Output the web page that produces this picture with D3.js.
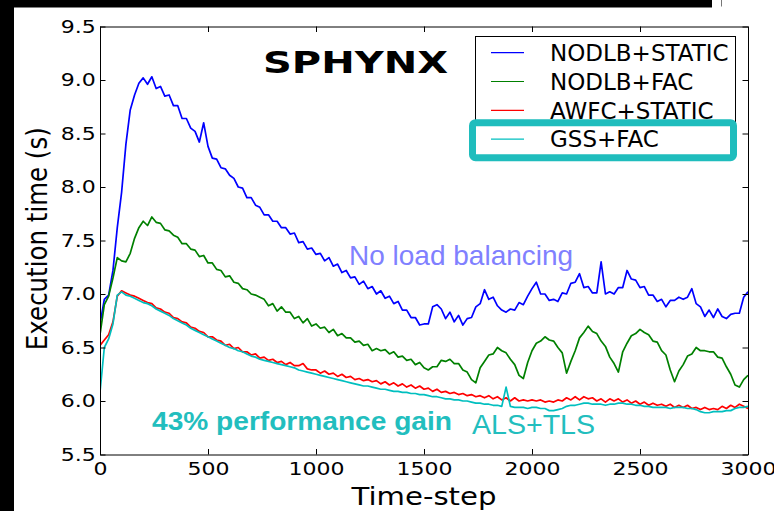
<!doctype html>
<html>
<head>
<meta charset="utf-8">
<style>
  body { margin: 0; background: #fff; }
  text { font-family: 'DejaVu Sans'; }
  .axis text { font-size: 18.5px; fill: #000; }
  .axis path, .axis line { stroke: #000; stroke-width: 1; }
</style>
<script src="https://cdn.jsdelivr.net/npm/d3@7/dist/d3.min.js"></script>
</head>
<body>
<script>
// time-steps, one sample every 20 steps
var steps = d3.range(0, 3001, 20);

var nodlbStatic = [
  6.72, 6.95, 6.99, 7.22, 7.62, 7.95, 8.40, 8.72, 8.86, 8.97,
  9.02, 8.96, 9.03, 8.92, 8.94, 8.85, 8.86, 8.76, 8.76, 8.64,
  8.64, 8.55, 8.52, 8.42, 8.60, 8.38, 8.27, 8.26, 8.18, 8.17,
  8.11, 8.08, 8.00, 7.99, 7.90, 7.90, 7.83, 7.81, 7.74, 7.74,
  7.68, 7.68, 7.62, 7.62, 7.56, 7.57, 7.48, 7.49, 7.42, 7.43,
  7.37, 7.38, 7.31, 7.34, 7.26, 7.28, 7.20, 7.22, 7.15, 7.16,
  7.09, 7.12, 7.05, 7.07, 7.00, 7.03, 6.96, 6.98, 6.91, 6.93,
  6.85, 6.85, 6.78, 6.78, 6.71, 6.72, 6.72, 6.88, 6.90, 6.86,
  6.77, 6.83, 6.74, 6.80, 6.71, 6.77, 6.78, 6.88, 6.91, 7.04,
  6.95, 6.97, 6.89, 6.85, 6.83, 6.86, 6.85, 6.92, 6.90, 6.98,
  7.05, 7.11, 7.00, 7.00, 6.94, 6.95, 6.93, 7.01, 7.00, 7.10,
  7.11, 7.19, 7.06, 7.07, 7.01, 7.01, 7.30, 7.00, 7.02, 7.00,
  7.06, 7.06, 7.22, 7.14, 7.13, 7.06, 7.07, 6.99, 6.99, 6.93,
  6.95, 6.88, 6.94, 6.94, 6.97, 6.95, 6.97, 7.05, 6.91, 6.88,
  6.79, 6.85, 6.78, 6.86, 6.79, 6.77, 6.81, 6.82, 6.82, 6.97,
  7.02
];

var nodlbFac = [
  6.62, 6.90, 6.98, 7.15, 7.34, 7.31, 7.30, 7.38, 7.52, 7.62,
  7.68, 7.64, 7.72, 7.67, 7.66, 7.60, 7.59, 7.55, 7.53, 7.47,
  7.47, 7.42, 7.41, 7.35, 7.36, 7.29, 7.29, 7.23, 7.22, 7.16,
  7.17, 7.11, 7.10, 7.05, 7.04, 7.00, 6.99, 6.97, 6.95, 6.89,
  6.91, 6.84, 6.88, 6.83, 6.83, 6.77, 6.79, 6.73, 6.77, 6.70,
  6.72, 6.68, 6.69, 6.64, 6.67, 6.61, 6.63, 6.59, 6.59, 6.55,
  6.56, 6.52, 6.53, 6.47, 6.49, 6.47, 6.48, 6.44, 6.46, 6.41,
  6.42, 6.38, 6.39, 6.34, 6.36, 6.31, 6.29, 6.32, 6.32, 6.38,
  6.37, 6.39, 6.35, 6.35, 6.29, 6.27, 6.20, 6.17, 6.31, 6.37,
  6.43, 6.44, 6.50, 6.47, 6.45, 6.39, 6.34, 6.24, 6.21, 6.36,
  6.47, 6.54, 6.56, 6.60, 6.57, 6.56, 6.50, 6.45, 6.26, 6.37,
  6.47, 6.59, 6.64, 6.70, 6.65, 6.63, 6.56, 6.51, 6.41, 6.35,
  6.27, 6.46, 6.54, 6.61, 6.63, 6.67, 6.64, 6.62, 6.56, 6.55,
  6.47, 6.43, 6.29, 6.18, 6.28, 6.34, 6.42, 6.44, 6.50, 6.47,
  6.47, 6.46, 6.46, 6.41, 6.40, 6.32, 6.25, 6.15, 6.13, 6.20,
  6.24
];

var awfcStatic = [
  6.52, 6.57, 6.62, 6.74, 6.98, 7.03, 7.01, 6.99, 6.98, 6.96,
  6.94, 6.92, 6.91, 6.87, 6.86, 6.83, 6.82, 6.78, 6.77, 6.74,
  6.73, 6.69, 6.68, 6.65, 6.64, 6.60, 6.60, 6.57, 6.56, 6.52,
  6.53, 6.49, 6.50, 6.46, 6.46, 6.43, 6.44, 6.40, 6.41, 6.38,
  6.39, 6.36, 6.37, 6.34, 6.36, 6.33, 6.33, 6.35, 6.30, 6.29,
  6.29, 6.26, 6.28, 6.25, 6.26, 6.23, 6.25, 6.22, 6.23, 6.20,
  6.21, 6.19, 6.20, 6.18, 6.19, 6.16, 6.18, 6.15, 6.17, 6.14,
  6.16, 6.13, 6.15, 6.12, 6.14, 6.11, 6.12, 6.09, 6.11, 6.08,
  6.09, 6.07, 6.08, 6.06, 6.07, 6.05, 6.06, 6.04, 6.05, 6.03,
  6.05, 6.02, 6.04, 6.01, 6.03, 6.00, 6.03, 6.00, 6.01, 6.00,
  6.01, 6.00, 6.01, 5.99, 6.00, 5.99, 6.01, 6.00, 6.03, 6.01,
  6.04, 6.01, 6.04, 6.02, 6.03, 6.00, 6.02, 5.99, 6.02, 6.00,
  6.02, 5.99, 6.01, 5.98, 6.00, 5.97, 5.99, 5.96, 5.98, 5.96,
  5.97, 5.95, 5.97, 5.94, 5.96, 5.94, 5.96, 5.93, 5.94, 5.92,
  5.94, 5.92, 5.93, 5.92, 5.95, 5.93, 5.96, 5.94, 5.97, 5.95,
  5.93
];

var gssFac = [
  6.08, 6.50, 6.58, 6.72, 6.99, 7.02, 6.99, 6.98, 6.96, 6.94,
  6.92, 6.91, 6.89, 6.86, 6.84, 6.82, 6.80, 6.77, 6.75, 6.73,
  6.71, 6.68, 6.66, 6.64, 6.62, 6.60, 6.58, 6.56, 6.54, 6.52,
  6.50, 6.49, 6.47, 6.46, 6.44, 6.42, 6.41, 6.39, 6.38, 6.37,
  6.36, 6.35, 6.34, 6.33, 6.32, 6.31, 6.29, 6.28, 6.27, 6.26,
  6.25, 6.24, 6.23, 6.22, 6.21, 6.20, 6.19, 6.18, 6.17, 6.16,
  6.15, 6.14, 6.14, 6.13, 6.12, 6.11, 6.11, 6.10, 6.09, 6.09,
  6.08, 6.08, 6.07, 6.07, 6.06, 6.06, 6.05, 6.04, 6.04, 6.03,
  6.02, 6.02, 6.01, 6.01, 6.00, 6.00, 5.99, 5.98, 5.98, 5.97,
  5.97, 5.96, 5.96, 5.95, 6.13, 5.95, 5.94, 5.94, 5.94, 5.93,
  5.94, 5.94, 5.93, 5.93, 5.91, 5.91, 5.92, 5.93, 5.95, 5.96,
  5.96, 5.97, 5.98, 5.98, 5.97, 5.97, 5.97, 5.96, 5.97, 5.97,
  5.98, 5.98, 5.97, 5.97, 5.96, 5.96, 5.95, 5.95, 5.94, 5.94,
  5.94, 5.94, 5.93, 5.94, 5.94, 5.94, 5.93, 5.93, 5.92, 5.90,
  5.89, 5.89, 5.90, 5.90, 5.90, 5.91, 5.91, 5.93, 5.94, 5.94,
  5.95
];

var seriesNames = ["NODLB+STATIC", "NODLB+FAC", "AWFC+STATIC", "GSS+FAC"];
var seriesColors = ["#0000ff", "#008000", "#ff0000", "#00bfbf"];
var seriesValues = [nodlbStatic, nodlbFac, awfcStatic, gssFac];

var xTicks = [0, 500, 1000, 1500, 2000, 2500, 3000];
var yTicks = [5.5, 6.0, 6.5, 7.0, 7.5, 8.0, 8.5, 9.0, 9.5];

var W = 774, H = 511;
var plotL = 100, plotR = 748, plotT = 26.5, plotB = 454.5;
var SX = 1.19; // the axis text in the picture is stretched sideways

var svg = d3.select("body").append("svg").attr("width", W).attr("height", H);
svg.append("rect").attr("width", W).attr("height", H).attr("fill", "#fff");

// frame of the screenshot
svg.append("rect").attr("x", 0).attr("y", 0).attr("width", 712).attr("height", 7.5).attr("fill", "#000");
svg.append("rect").attr("x", 0).attr("y", 0).attr("width", 14).attr("height", H).attr("fill", "#000");
svg.append("line").attr("x1", 721.5).attr("x2", 721.5).attr("y1", 0).attr("y2", 6.5)
  .attr("stroke", "#777").attr("stroke-width", 1);

var x = d3.scaleLinear().domain([0, 3000]).range([plotL, plotR]);
var y = d3.scaleLinear().domain([5.5, 9.5]).range([plotB, plotT]);

svg.append("clipPath").attr("id", "plot").append("rect")
  .attr("x", plotL).attr("y", plotT).attr("width", plotR - plotL).attr("height", plotB - plotT);

var line = d3.line()
  .x(function(d, i) { return x(steps[i]); })
  .y(function(d) { return y(d); });

seriesValues.forEach(function(vals, k) {
  svg.append("path")
    .datum(vals)
    .attr("clip-path", "url(#plot)")
    .attr("fill", "none")
    .attr("stroke", seriesColors[k])
    .attr("stroke-width", 1.7)
    .attr("stroke-linejoin", "round")
    .attr("d", line);
});

// axes, ticks pointing inwards on all four sides
var gx = svg.append("g").attr("class", "axis").attr("transform", "translate(0," + plotB + ")")
  .call(d3.axisBottom(x).tickValues(xTicks).tickFormat(d3.format("d")).tickSizeInner(-5.5).tickSizeOuter(0).tickPadding(7.5));
gx.selectAll("text").attr("transform", "scale(" + SX + ",1)");

var gy = svg.append("g").attr("class", "axis").attr("transform", "translate(" + plotL + ",0)")
  .call(d3.axisLeft(y).tickValues(yTicks).tickFormat(d3.format(".1f")).tickSizeInner(-5.5).tickSizeOuter(0).tickPadding(3.6));
gy.selectAll("text").attr("transform", "scale(" + SX + ",1)");

svg.append("g").attr("class", "axis").attr("transform", "translate(0," + plotT + ")")
  .call(d3.axisTop(x).tickValues(xTicks).tickFormat("").tickSizeInner(-5.5).tickSizeOuter(0));
svg.append("g").attr("class", "axis").attr("transform", "translate(" + plotR + ",0)")
  .call(d3.axisRight(y).tickValues(yTicks).tickFormat("").tickSizeInner(-5.5).tickSizeOuter(0));

// axis titles
svg.append("text")
  .attr("transform", "translate(424,505) scale(" + SX + ",1)")
  .attr("text-anchor", "middle")
  .style("font-size", "24.5px")
  .text("Time-step");

svg.append("text")
  .attr("transform", "translate(47,238.7) scale(" + SX + ",1) rotate(-90)")
  .attr("text-anchor", "middle")
  .style("font-size", "24.5px")
  .text("Execution time (s)");

// logo
svg.append("text")
  .attr("x", 263).attr("y", 72.5)
  .attr("textLength", 185).attr("lengthAdjust", "spacingAndGlyphs")
  .style("font-size", "30px").style("font-weight", "bold")
  .text("SPHYNX");

// legend
svg.append("rect").attr("x", 475.5).attr("y", 36.5).attr("width", 260).attr("height", 121)
  .attr("fill", "#fff").attr("stroke", "#000").attr("stroke-width", 1);

var legend = svg.selectAll(".leg").data(seriesNames).enter().append("g")
  .attr("transform", function(d, i) { return "translate(0," + (52.7 + i * 28.8) + ")"; });
legend.append("line").attr("x1", 491).attr("x2", 524).attr("y1", 0).attr("y2", 0)
  .attr("stroke", function(d, i) { return seriesColors[i]; }).attr("stroke-width", 1.2);
legend.append("text").attr("x", 550).attr("y", 8.2)
  .style("font-size", "23px")
  .text(function(d) { return d; });

// highlight box round the last entry
svg.append("rect").attr("x", 472.5).attr("y", 122.7).attr("width", 261).attr("height", 35)
  .attr("rx", 3).attr("fill", "none").attr("stroke", "#1fbdbd").attr("stroke-width", 7);

// annotations
svg.append("text").attr("x", 349).attr("y", 265)
  .style("font-family", "'Liberation Sans'").style("font-size", "28px").attr("fill", "#8080ff")
  .text("No load balancing");

svg.append("text").attr("x", 152).attr("y", 430)
  .attr("textLength", 300).attr("lengthAdjust", "spacingAndGlyphs")
  .style("font-family", "'Liberation Sans'").style("font-size", "25.5px").style("font-weight", "bold")
  .attr("fill", "#22bebe")
  .text("43% performance gain");

svg.append("text").attr("x", 472).attr("y", 434)
  .attr("textLength", 123).attr("lengthAdjust", "spacingAndGlyphs")
  .style("font-family", "'Liberation Sans'").style("font-size", "27px")
  .attr("fill", "#22bebe")
  .text("ALS+TLS");
</script>
</body>
</html>
